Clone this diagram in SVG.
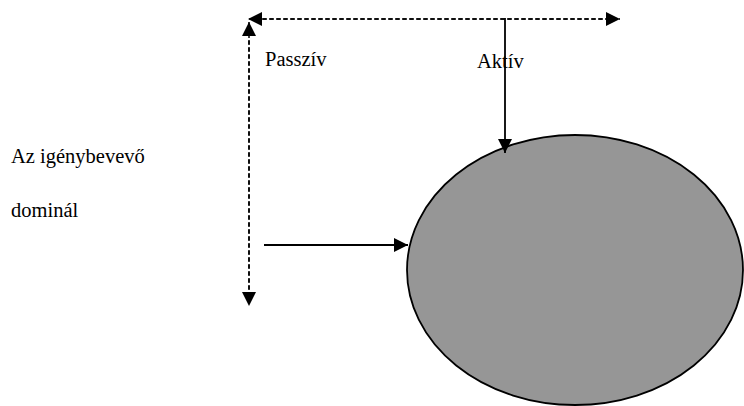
<svg xmlns="http://www.w3.org/2000/svg" width="744" height="406" viewBox="0 0 744 406">
<style>
.d{stroke:#000;stroke-width:1.5;stroke-dasharray:4,3;fill:none}
.s{stroke:#000;stroke-width:1.8;fill:none}
</style>
<defs>
<marker id="ah" viewBox="0 0 10 10" refX="10" refY="5" markerWidth="14" markerHeight="14" markerUnits="userSpaceOnUse" orient="auto">
<path d="M0,0L10,5L0,10z" fill="#000"/>
</marker>
</defs>
<rect width="744" height="406" fill="#fff"/>
<g id="ellipse">
<ellipse cx="575" cy="270" rx="168" ry="135" fill="#969696" stroke="#000" stroke-width="1.8"/>
</g>
<g id="connectors">
<line class="d" x1="610" y1="19" x2="248" y2="19" marker-end="url(#ah)"/>
<line class="d" x1="262" y1="19" x2="620" y2="19" marker-end="url(#ah)"/>
<line class="d" x1="249" y1="290" x2="249" y2="22" marker-end="url(#ah)"/>
<line class="d" x1="249" y1="40" x2="249" y2="306" marker-end="url(#ah)"/>
<line class="s" x1="505" y1="18" x2="505" y2="153" marker-end="url(#ah)"/>
<line class="s" x1="264" y1="245" x2="408" y2="245" marker-end="url(#ah)"/>
</g>
<g id="labels" font-family="Liberation Serif, Times New Roman, serif" font-size="20.5" fill="#000">
<text x="265" y="66">Passzív</text>
<text x="477" y="68">Aktív</text>
<text x="11" y="163">Az igénybevevő</text>
<text x="11" y="217">dominál</text>
</g>
</svg>
